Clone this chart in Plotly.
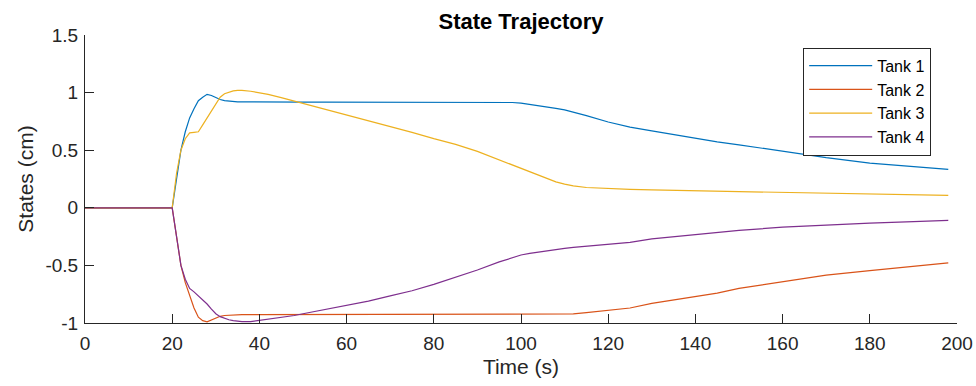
import plotly.graph_objects as go

t = [0, 20, 21, 22, 23, 24, 25, 26, 27, 28, 29, 30, 31, 32, 33, 34, 35, 36, 38, 40,
     42, 45, 48, 50, 55, 60, 65, 70, 75, 80, 85, 90, 95, 98, 100, 102, 104, 106, 108,
     110, 112, 115, 120, 125, 130, 135, 140, 145, 150, 160, 170, 180, 190, 198]

tank1 = [0, 0, 0.25, 0.50, 0.66, 0.78, 0.86, 0.93, 0.96, 0.985, 0.975, 0.955, 0.94, 0.93,
         0.925, 0.922, 0.920, 0.919, 0.918, 0.918, 0.918, 0.918, 0.918, 0.918, 0.918,
         0.918, 0.918, 0.918, 0.918, 0.918, 0.918, 0.918, 0.917, 0.914, 0.908, 0.898,
         0.888, 0.876, 0.863, 0.850, 0.832, 0.800, 0.745, 0.700, 0.668, 0.635, 0.600,
         0.572, 0.547, 0.490, 0.435, 0.388, 0.355, 0.333]

tank2 = [0, 0, -0.25, -0.50, -0.65, -0.77, -0.87, -0.95, -0.98, -0.99, -0.975, -0.955,
         -0.942, -0.935, -0.932, -0.930, -0.929, -0.928, -0.927, -0.927, -0.927, -0.927,
         -0.927, -0.927, -0.927, -0.927, -0.927, -0.927, -0.927, -0.927, -0.927, -0.927,
         -0.927, -0.927, -0.927, -0.927, -0.927, -0.927, -0.927, -0.926, -0.921, -0.910,
         -0.890, -0.870, -0.830, -0.800, -0.770, -0.740, -0.700, -0.640, -0.585, -0.545,
         -0.505, -0.478]

tank3 = [0, 0, 0.30, 0.50, 0.60, 0.65, 0.655, 0.66, 0.72, 0.78, 0.85, 0.91, 0.96, 0.99,
         1.005, 1.015, 1.02, 1.02, 1.012, 1.00, 0.985, 0.957, 0.927, 0.91, 0.86, 0.81,
         0.76, 0.705, 0.655, 0.60, 0.55, 0.49, 0.415, 0.37, 0.34, 0.31, 0.28, 0.25, 0.225,
         0.205, 0.19, 0.176, 0.165, 0.160, 0.155, 0.151, 0.147, 0.144, 0.140, 0.133,
         0.126, 0.120, 0.113, 0.107]

tank4 = [0, 0, -0.25, -0.50, -0.62, -0.70, -0.73, -0.765, -0.80, -0.835, -0.88, -0.92,
         -0.945, -0.96, -0.972, -0.98, -0.985, -0.988, -0.988, -0.978, -0.968, -0.95,
         -0.935, -0.92, -0.885, -0.85, -0.81, -0.765, -0.72, -0.665, -0.605, -0.54,
         -0.47, -0.43, -0.41, -0.395, -0.383, -0.372, -0.362, -0.352, -0.344, -0.333,
         -0.316, -0.300, -0.270, -0.252, -0.235, -0.217, -0.196, -0.168, -0.148,
         -0.133, -0.120, -0.110]

names = ["Tank 1", "Tank 2", "Tank 3", "Tank 4"]
colors = ["#0072BD", "#D95319", "#EDB120", "#7E2F8E"]
series = [tank1, tank2, tank3, tank4]

x_ticks = [0, 20, 40, 60, 80, 100, 120, 140, 160, 180, 200]
y_ticks = [-1, -0.5, 0, 0.5, 1, 1.5]
y_tick_labels = ["-1", "-0.5", "0", "0.5", "1", "1.5"]

FONT = "Liberation Sans, Arial, Helvetica, sans-serif"
AX = "#262626"

W, H = 976, 386

fig = go.Figure()
for name, col, ys in zip(names, colors, series):
    fig.add_trace(go.Scatter(x=t, y=ys, mode="lines", name=name,
                             line=dict(color=col, width=1.2)))

fig.update_layout(
    width=W, height=H,
    margin=dict(l=85, r=19, t=35, b=63, autoexpand=False),
    paper_bgcolor="white", plot_bgcolor="white",
    font=dict(family=FONT, size=19, color=AX),
    title=dict(text="<b>State Trajectory</b>", x=0.5, xref="paper",
               y=1 - 21 / H, yref="container", xanchor="center", yanchor="middle",
               font=dict(family=FONT, size=22, color="black")),
    showlegend=True,
    legend=dict(x=0.8236, y=0.956, xanchor="left", yanchor="top",
                bgcolor="white", bordercolor=AX, borderwidth=1,
                font=dict(family=FONT, size=16, color="black"),
                itemwidth=63, entrywidth=58, tracegroupgap=0),
)
fig.update_xaxes(range=[0, 200], tickvals=x_ticks, ticks="inside", ticklen=9,
                 tickcolor=AX, showline=True, linecolor=AX, linewidth=1,
                 showgrid=False, zeroline=False, mirror=False, automargin=False,
                 ticklabelstandoff=3,
                 title=dict(text="Time (s)", font=dict(size=21, color=AX), standoff=6),
                 tickfont=dict(size=19, color=AX))
fig.update_yaxes(range=[-1, 1.5], tickvals=y_ticks, ticktext=y_tick_labels,
                 ticks="inside", ticklen=9, tickcolor=AX, showline=True,
                 linecolor=AX, linewidth=1, showgrid=False, zeroline=False,
                 automargin=False, ticklabelstandoff=2,
                 title=dict(text="States (cm)", font=dict(size=21, color=AX), standoff=6),
                 tickfont=dict(size=19, color=AX))

# remove the default page margin so the 976x386 figure fills the window exactly
fig.write_html("out.html",
               config={"displayModeBar": False},
               post_script="document.body.style.margin='0';"
                           "document.body.style.overflow='hidden';"
                           "document.documentElement.style.overflow='hidden';")
